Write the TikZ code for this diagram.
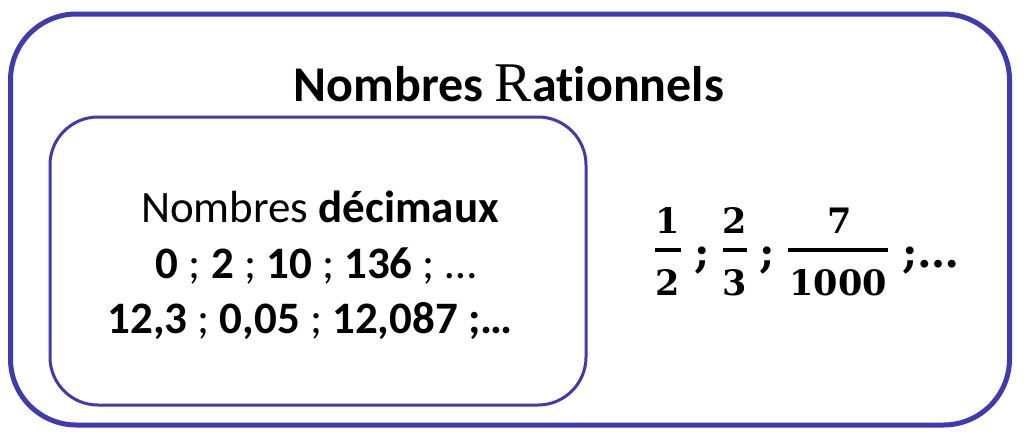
\documentclass[tikz,border=0pt]{standalone}
\usepackage{fontspec}
\setmainfont{Carlito}[Ligatures=NoCommon]
\newfontfamily\serifR{Liberation Serif}
\newfontfamily\fracfont{DejaVu Serif}
\definecolor{framecol}{RGB}{64,58,178}
\tikzset{
  outerbox/.style={draw=framecol, line width=5pt, rounded corners=66pt, inner sep=0pt},
  innerbox/.style={draw=framecol, line width=3pt, rounded corners=48pt, inner sep=0pt},
  titletext/.style={anchor=base, inner sep=0pt, font=\fontsize{50}{60}\selectfont\bfseries},
  dectext/.style={anchor=base, inner sep=0pt, font=\fontsize{45}{54}\selectfont},
  fracdigit/.style={anchor=base, inner sep=0pt, font=\fontsize{35}{42}\selectfont\fracfont\bfseries},
  fracsemi/.style={anchor=base, inner sep=0pt, font=\fontsize{42}{50}\selectfont\fracfont\bfseries},
  fracbar/.style={line width=4.5pt, line cap=butt}
}
\begin{document}
\begin{tikzpicture}[x=1pt,y=-1pt]
\useasboundingbox (0,0) rectangle (1024,437);
\node[outerbox, minimum width=999pt, minimum height=411pt] (outer) at (510,219.5) {};
\node[innerbox, minimum width=536pt, minimum height=288pt] (inner) at (318,261) {};
\node[titletext] (title) at (509,101) {Nombres {\serifR\mdseries\fontsize{56}{60}\selectfont R}ationnels};
\node[dectext] (dec1) at (320,222) {Nombres \textbf{décimaux}};
\node[dectext] (dec2) at (316,278) {\textbf{0} ; \textbf{2} ; \textbf{10} ; \textbf{136} ; …};
\node[dectext] (dec3) at (310,333) {\textbf{12,3} ; \textbf{0,05} ; \textbf{12,087 ;…}};
% fraction 1/2
\node[fracdigit] (n1) at (668,233) {1};
\node[fracdigit] (d1) at (668,295) {2};
\coordinate (b1l) at (655,250); \coordinate (b1r) at (681,250);
\draw[fracbar] (b1l) -- (b1r);
\node[fracsemi] (s1) at (702,267) {;};
% fraction 2/3
\node[fracdigit] (n2) at (735,233) {2};
\node[fracdigit] (d2) at (735,295) {3};
\coordinate (b2l) at (723,250); \coordinate (b2r) at (747,250);
\draw[fracbar] (b2l) -- (b2r);
\node[fracsemi] (s2) at (767,267) {;};
% fraction 7/1000
\node[fracdigit] (n3) at (840,233) {7};
\node[fracdigit] (d3) at (838,295) {1000};
\coordinate (b3l) at (788,250); \coordinate (b3r) at (888,250);
\draw[fracbar] (b3l) -- (b3r);
\node[fracsemi, anchor=base west] (s3) at (902,267) {;…};
\end{tikzpicture}
\end{document}
